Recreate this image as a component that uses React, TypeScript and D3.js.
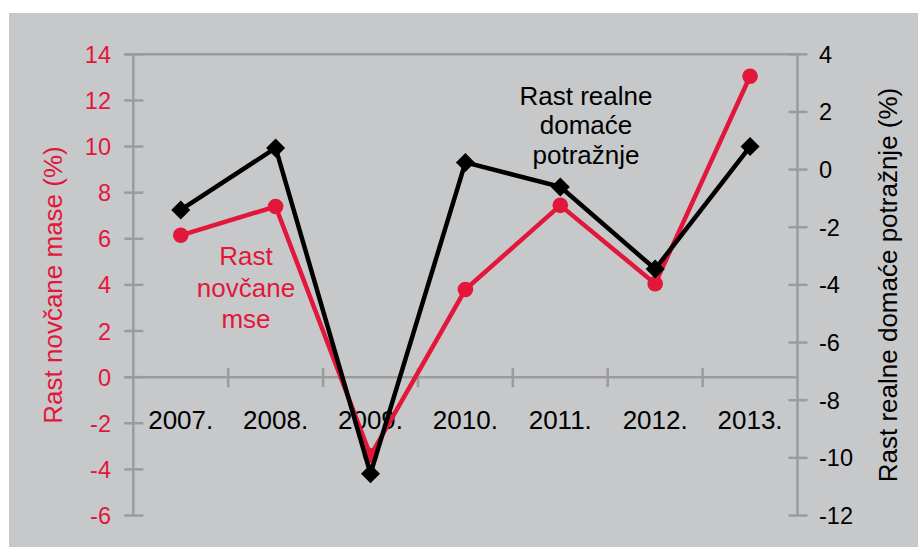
import React from "react";
import * as d3 from "d3";

const categories = ["2007.", "2008.", "2009.", "2010.", "2011.", "2012.", "2013."];
const moneyGrowth = [6.15, 7.4, -3.4, 3.8, 7.45, 4.05, 13.05];
const demandGrowth = [-1.4, 0.75, -10.55, 0.25, -0.6, -3.45, 0.8];
const leftTicks = [-6, -4, -2, 0, 2, 4, 6, 8, 10, 12, 14];
const rightTicks = [-12, -10, -8, -6, -4, -2, 0, 2, 4];
const leftTitle = "Rast novčane mase (%)";
const rightTitle = "Rast realne domaće potražnje (%)";
const redLabel = ["Rast", "novčane", "mse"];
const blackLabel = ["Rast realne", "domaće", "potražnje"];

const W = 918;
const H = 547;
const RED = "#e2173a";
const AXIS = "#9a9b9d";
const BG = "#c7c8ca";
const FONT = "'Liberation Sans', Arial, Helvetica, sans-serif";

export default function App() {
  const left = 133.3;
  const right = 797.5;
  const top = 54.3;
  const bottom = 515.5;

  const x = d3.scaleBand<string>().domain(categories).range([left, right]);
  const yL = d3.scaleLinear().domain([-6, 14]).range([bottom, top]);
  const yR = d3.scaleLinear().domain([-12, 4]).range([bottom, top]);
  const cx = (c: string) => (x(c) as number) + x.bandwidth() / 2;

  const redLine = d3
    .line<number>()
    .x((_, i) => cx(categories[i]))
    .y((d) => yL(d));
  const blackLine = d3
    .line<number>()
    .x((_, i) => cx(categories[i]))
    .y((d) => yR(d));

  const y0 = yL(0);
  const bounds = categories.map((c) => x(c) as number).slice(1).concat([]);

  return (
    <>
      <style>{`body{margin:0;}`}</style>
      <svg width={W} height={H} style={{ display: "block", fontFamily: FONT }}>
        <rect x={0} y={0} width={W} height={H} fill="#ffffff" />
        <rect x={9} y={13} width={W - 9} height={H - 13} fill={BG} />

        {/* top border */}
        <line x1={left - 9} x2={right} y1={top} y2={top} stroke={AXIS} strokeWidth={2.5} />
        {/* x axis at zero */}
        <line x1={left - 9} x2={right} y1={y0} y2={y0} stroke={AXIS} strokeWidth={2.5} />
        {bounds.map((b, i) => (
          <line key={"xt" + i} x1={b} x2={b} y1={y0 - 9} y2={y0 + 10} stroke={AXIS} strokeWidth={2.5} />
        ))}

        {/* left axis */}
        <line x1={left} x2={left} y1={top} y2={bottom} stroke={AXIS} strokeWidth={2.5} />
        {leftTicks.map((t) => (
          <g key={"lt" + t}>
            <line x1={left - 9} x2={left + 10} y1={yL(t)} y2={yL(t)} stroke={AXIS} strokeWidth={2.5} />
            <text x={111} y={yL(t) + 8.5} textAnchor="end" fontSize={23.5} fill={RED}>
              {String(t)}
            </text>
          </g>
        ))}

        {/* right axis */}
        <line x1={right} x2={right} y1={top} y2={bottom} stroke={AXIS} strokeWidth={2.5} />
        {rightTicks.map((t) => (
          <g key={"rt" + t}>
            <line x1={right - 9} x2={right + 10} y1={yR(t)} y2={yR(t)} stroke={AXIS} strokeWidth={2.5} />
            <text x={819} y={yR(t) + 8.5} textAnchor="start" fontSize={23.5} fill="#000">
              {String(t)}
            </text>
          </g>
        ))}

        {/* category labels */}
        {categories.map((c) => (
          <text key={"c" + c} x={cx(c)} y={y0 + 52} textAnchor="middle" fontSize={26} fill="#000">
            {c}
          </text>
        ))}

        {/* axis titles */}
        <text transform={`translate(62,285) rotate(-90)`} textAnchor="middle" fontSize={26} fill={RED}>
          {leftTitle}
        </text>
        <text transform={`translate(897,285) rotate(-90)`} textAnchor="middle" fontSize={26} fill="#000">
          {rightTitle}
        </text>

        {/* red series */}
        <path d={redLine(moneyGrowth) || ""} fill="none" stroke={RED} strokeWidth={4.5} strokeLinejoin="miter" />
        {moneyGrowth.map((v, i) => (
          <circle key={"rc" + i} cx={cx(categories[i])} cy={yL(v)} r={7.8} fill={RED} />
        ))}

        {/* black series */}
        <path d={blackLine(demandGrowth) || ""} fill="none" stroke="#000" strokeWidth={4.5} strokeLinejoin="miter" />
        {demandGrowth.map((v, i) => {
          const px = cx(categories[i]);
          const py = yR(v);
          const s = 9.5;
          return (
            <path
              key={"bd" + i}
              d={`M${px},${py - s}L${px + s},${py}L${px},${py + s}L${px - s},${py}Z`}
              fill="#000"
            />
          );
        })}

        {/* in-chart labels */}
        {redLabel.map((t, i) => (
          <text key={"rl" + i} x={246} y={265 + i * 31.6} textAnchor="middle" fontSize={26} fill={RED}>
            {t}
          </text>
        ))}
        {blackLabel.map((t, i) => (
          <text key={"bl" + i} x={586} y={104.5 + i * 29.5} textAnchor="middle" fontSize={26} fill="#000">
            {t}
          </text>
        ))}
      </svg>
    </>
  );
}
